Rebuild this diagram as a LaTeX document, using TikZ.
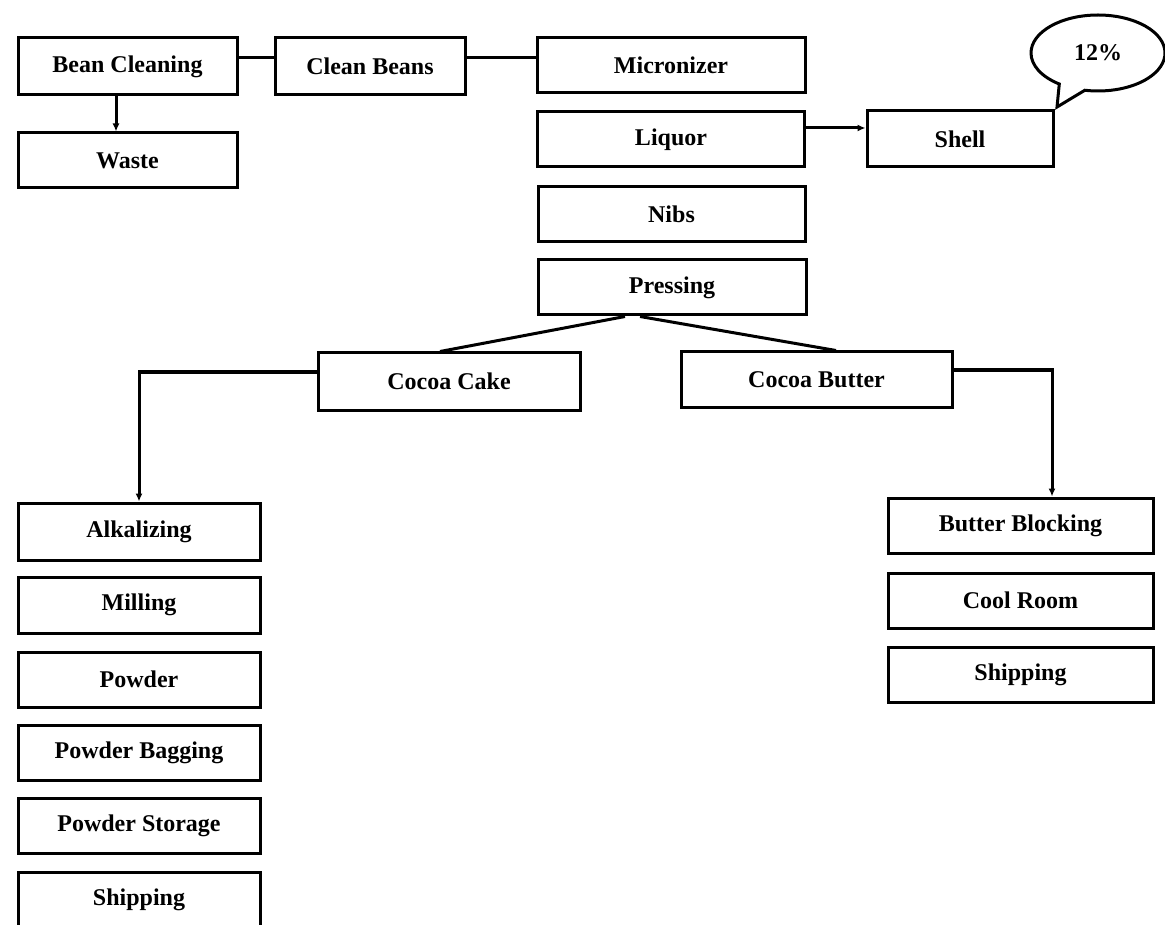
\documentclass[tikz,border=0pt]{standalone}
\usepackage{fontspec}
\setmainfont{Liberation Serif}
\usetikzlibrary{arrows.meta,shapes.callouts}
\begin{document}
\begin{tikzpicture}[x=1pt,y=-1pt,
  box/.style={draw,line width=3pt,rectangle,inner sep=0pt,
    font=\fontsize{24}{28}\selectfont\bfseries,align=center},
  link/.style={line width=3pt},
  flow/.style={line width=3pt,-{Latex[length=8pt,width=7pt]}}]
\useasboundingbox (0,0) rectangle (1165,925);

% top row and waste
\node[box,minimum width=219pt,minimum height=57pt] (bean)  at (127.5,66.5) {Bean Cleaning};
\node[box,minimum width=190pt,minimum height=57pt] (clean) at (370,66.5) {Clean Beans};
\node[box,minimum width=268pt,minimum height=55pt] (micro) at (671,65.5) {Micronizer};
\node[box,minimum width=219pt,minimum height=55pt] (waste) at (127.5,160.5) {Waste};

% middle column
\node[box,minimum width=267pt,minimum height=55pt] (liquor) at (671,139.5) {Liquor};
\node[box,minimum width=186pt,minimum height=56pt] (shell)  at (960,139) {Shell};
\node[box,minimum width=267pt,minimum height=55pt] (nibs)   at (671.5,214.5) {Nibs};
\node[box,minimum width=268pt,minimum height=55pt] (press)  at (672,287.5) {Pressing};

% percentage callout
\coordinate (tip) at (1057,107);
\node[ellipse callout,draw,line width=3pt,minimum width=134pt,minimum height=76pt,
  callout absolute pointer=(tip),callout pointer arc=24,
  font=\fontsize{24}{28}\selectfont\bfseries] (pct) at (1098,53) {12\%};

% split after pressing
\node[box,minimum width=262pt,minimum height=57pt] (cake)   at (449,381.5) {Cocoa Cake};
\node[box,minimum width=271pt,minimum height=55pt] (butter) at (816.5,379.5) {Cocoa Butter};

% cake branch
\node[box,minimum width=242pt,minimum height=57pt] (alk)     at (139,531.5) {Alkalizing};
\node[box,minimum width=242pt,minimum height=56pt] (mill)    at (139,605) {Milling};
\node[box,minimum width=242pt,minimum height=55pt] (powder)  at (139,679.5) {Powder};
\node[box,minimum width=242pt,minimum height=55pt] (bagging) at (139,752.5) {Powder Bagging};
\node[box,minimum width=242pt,minimum height=55pt] (storage) at (139,825.5) {Powder Storage};
\node[box,minimum width=242pt,minimum height=55pt] (shipA)   at (139,899.5) {Shipping};

% butter branch
\node[box,minimum width=265pt,minimum height=55pt] (block) at (1020.5,525.5) {Butter Blocking};
\node[box,minimum width=265pt,minimum height=55pt] (cool)  at (1020.5,600.5) {Cool Room};
\node[box,minimum width=265pt,minimum height=55pt] (shipB) at (1020.5,674.5) {Shipping};

% helper rows and columns for connectors
\coordinate (rowA) at (0,58);
\coordinate (rowL) at (0,128);
\coordinate (rowC) at (0,372);
\coordinate (rowB) at (0,370);
\coordinate (colW) at (116,0);
\coordinate (colB) at (1052,0);
\coordinate (cakeTop) at (440,0);
\coordinate (butterTop) at (836,0);
\coordinate (apexL) at (625,0);
\coordinate (apexR) at (640,0);

\draw[link] (bean.east |- rowA) -- (clean.west |- rowA);
\draw[link] (clean.east |- rowA) -- (micro.west |- rowA);
\draw[flow] (bean.south -| colW) -- (waste.north -| colW);
\draw[flow] (liquor.east |- rowL) -- (shell.west |- rowL);
\draw[link] (press.south -| apexL) -- (cake.north -| cakeTop);
\draw[link] (press.south -| apexR) -- (butter.north -| butterTop);
\draw[flow] (cake.west |- rowC) -| (alk.north);
\draw[flow] (butter.east |- rowB) -| (colB |- block.north);
\end{tikzpicture}
\end{document}
